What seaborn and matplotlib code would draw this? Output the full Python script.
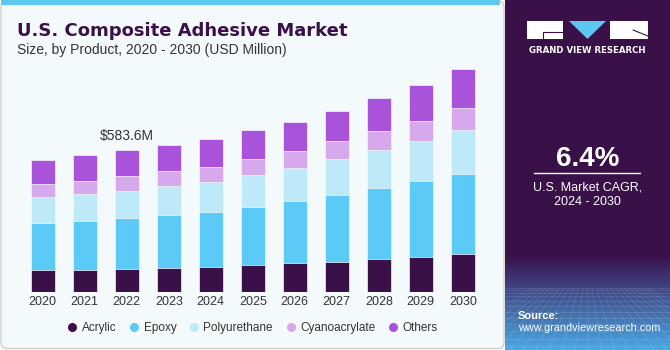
import numpy as np
import pandas as pd
import seaborn as sns
import matplotlib.pyplot as plt
from matplotlib.patches import FancyBboxPatch, Rectangle, Polygon
from matplotlib.lines import Line2D

# values (USD Million)
years = [str(y) for y in range(2020, 2031)]
acrylic = [90.4, 92.9, 97.0, 101.1, 105.2, 111.0, 119.2, 125.8, 135.6, 145.1, 158.6]
epoxy = [194.4, 201.4, 208.4, 217.8, 226.1, 240.8, 257.3, 275.4, 294.3, 312.4, 327.6]
polyurethane = [105.6, 109.7, 111.0, 118.0, 123.3, 130.3, 134.4, 145.5, 154.9, 164.4, 180.8]
cyanoacrylate = [53.4, 54.7, 60.4, 61.7, 61.7, 65.8, 71.1, 74.0, 79.3, 83.4, 90.4]
others = [99.9, 105.6, 106.8, 107.0, 112.6, 119.2, 120.0, 124.5, 134.4, 146.7, 159.1]

segments = ["Acrylic", "Epoxy", "Polyurethane", "Cyanoacrylate", "Others"]
colors = ["#3a1049", "#5ccaf6", "#bde9f9", "#d5a9ec", "#a853d9"]
bg = "#f4f9fc"
dark = "#3a1049"

df = pd.DataFrame({"Year": years, "Acrylic": acrylic, "Epoxy": epoxy,
                   "Polyurethane": polyurethane, "Cyanoacrylate": cyanoacrylate,
                   "Others": others})
cum = df[segments].cumsum(axis=1)

sns.set_theme(style="white")
plt.rcParams["font.family"] = ["Liberation Sans", "DejaVu Sans"]

fig = plt.figure(figsize=(6.7, 3.5), dpi=100)
fig.patch.set_facecolor("white")

# background decoration in pixel coordinates
deco = fig.add_axes([0, 0, 1, 1], zorder=-1)
deco.set_xlim(0, 670)
deco.set_ylim(350, 0)
deco.axis("off")

deco.add_patch(FancyBboxPatch((1, 1), 503, 347.5, boxstyle="round,pad=0,rounding_size=6",
                              facecolor=bg, edgecolor="#cfcfcf", linewidth=1))
deco.add_patch(Rectangle((1, 0), 499, 5, facecolor="#5bc8f0", edgecolor="none"))

# right panel
deco.add_patch(Rectangle((505, 0), 165, 350, facecolor=dark, edgecolor="none"))
stops_y = np.array([255, 290, 350])
stops_c = np.array([[0x3a, 0x10, 0x49], [0x40, 0x48, 0x88], [0x4a, 0xa8, 0xe2]]) / 255
ys = np.linspace(255, 350, 100)
grad = np.stack([np.interp(ys, stops_y, stops_c[:, k]) for k in range(3)], axis=1)
deco.imshow(grad[:, None, :], extent=[505, 670, 350, 255], aspect="auto", zorder=1)
# faint perspective grid
for i in range(12):
    yy = 288 + (i ** 1.5) * 1.6
    deco.plot([505, 670], [yy, yy], color="white", alpha=0.12, lw=0.6, zorder=2)
for xv in np.linspace(430, 760, 26):
    deco.plot([587 + (xv - 587) * 0.35, xv], [288, 350], color="white", alpha=0.12, lw=0.6, zorder=2)

# logo
deco.add_patch(Rectangle((527, 21), 36, 18, facecolor="white", edgecolor="none", zorder=3))
deco.add_patch(Polygon([[569, 21], [606, 21], [587.5, 39]], facecolor="#5bc8f0", edgecolor="none", zorder=3))
deco.add_patch(Rectangle((610, 21), 38, 18, facecolor="white", edgecolor="none", zorder=3))
deco.plot([543, 563], [32, 32], color=dark, lw=0.8, zorder=4)
deco.plot([543, 543], [32, 39], color=dark, lw=0.8, zorder=4)
deco.plot([633, 648], [30, 36], color=dark, lw=0.8, zorder=4)
deco.text(587.5, 53, "GRAND VIEW RESEARCH", color="white", fontsize=6.2, fontweight="bold",
          family="DejaVu Sans", ha="center", va="baseline", zorder=4)

deco.text(587.5, 165.5, "6.4%", color="white", fontsize=20, fontweight="bold",
          ha="center", va="baseline", zorder=4)
deco.plot([534, 640], [173.3, 173.3], color="white", lw=1, zorder=4)
deco.text(587.5, 190.7, "U.S. Market CAGR,", color="white", fontsize=9,
          ha="center", va="baseline", zorder=4)
deco.text(587.5, 205, "2024 - 2030", color="white", fontsize=9,
          ha="center", va="baseline", zorder=4)
deco.text(518, 319, "Source:", color="white", fontsize=8, fontweight="bold",
          ha="left", va="baseline", zorder=4)
deco.text(518, 331, "www.grandviewresearch.com", color="white", fontsize=7.8,
          ha="left", va="baseline", zorder=4)

# titles
deco.text(17, 36, "U.S. Composite Adhesive Market", color=dark, fontsize=13,
          fontweight="bold", family="DejaVu Sans", ha="left", va="baseline")
deco.text(17, 54, "Size, by Product, 2020 - 2030 (USD Million)", color="#333333",
          fontsize=10, ha="left", va="baseline")

# bar chart
ax = fig.add_axes([21.8 / 670, (350 - 292.3) / 350, 462 / 670, 232.3 / 350])
ax.set_facecolor("none")
for seg, col in reversed(list(zip(segments, colors))):
    sns.barplot(x=df["Year"], y=cum[seg], color=col, width=0.58, saturation=1,
                edgecolor=bg, linewidth=0.5, ax=ax)
ax.set_xlim(-0.5, 10.5)
ax.set_ylim(0, 954.8)
ax.set_xlabel("")
ax.set_ylabel("")
ax.set_yticks([])
ax.tick_params(axis="x", length=0, pad=2.5, labelsize=9, labelcolor="#333333")
sns.despine(ax=ax, left=True, bottom=True)

total_2022 = cum["Others"][2]
ax.annotate(f"${total_2022:.1f}M", (2, total_2022), xytext=(0, 7.5), textcoords="offset points",
            ha="center", va="baseline", fontsize=10, color="#333333")

handles = [Line2D([0], [0], marker="o", linestyle="", markersize=6.5,
                  markerfacecolor=c, markeredgecolor="none") for c in colors]
fig.legend(handles, segments, loc="center", bbox_to_anchor=(252 / 670, 1 - 327.7 / 350),
           ncol=5, frameon=False, fontsize=8.5, handletextpad=0.3, columnspacing=1.0,
           handlelength=1.0, labelcolor="#333333")

fig.savefig("out.png", dpi=100)
